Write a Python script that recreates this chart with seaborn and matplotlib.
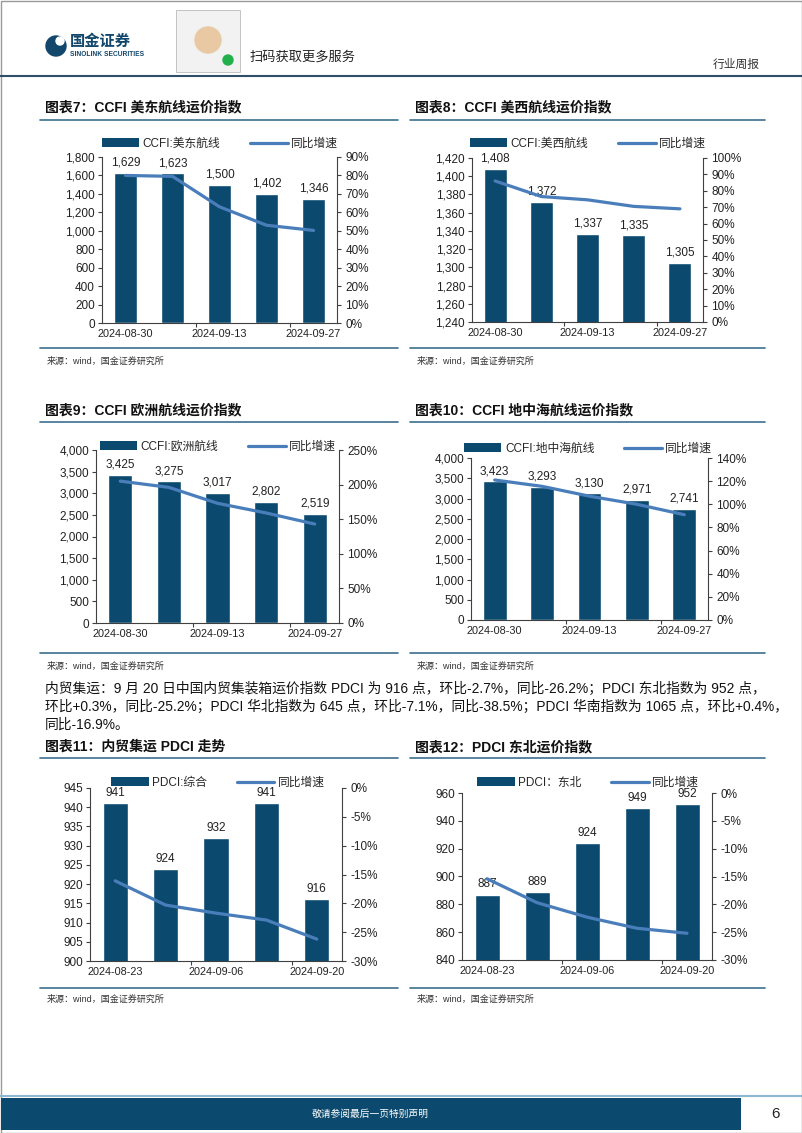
import numpy as np
import pandas as pd
import matplotlib
matplotlib.use("Agg")
import matplotlib.pyplot as plt
import seaborn as sns
from matplotlib.patches import Rectangle, Patch, Circle
from matplotlib.lines import Line2D
from matplotlib.ticker import MultipleLocator, FuncFormatter

sns.set_theme(style="white")
plt.rcParams["font.family"] = ["Liberation Sans", "Noto Sans CJK SC"]

W, H = 802, 1133
BAR = "#0b4a6e"
LINE = "#4a7ebb"
RULE = "#3d6e8e"
AXC = "#404040"

# === DATA ===
dates_ccfi = ["2024-08-30", "2024-09-06", "2024-09-13", "2024-09-20", "2024-09-27"]
dates_pdci = ["2024-08-23", "2024-08-30", "2024-09-06", "2024-09-13", "2024-09-20"]

us_east_idx = [1629, 1623, 1500, 1402, 1346]
us_east_yoy = [80.0, 79.5, 63.0, 53.0, 50.2]

us_west_idx = [1408, 1372, 1337, 1335, 1305]
us_west_yoy = [86.0, 76.5, 74.5, 70.5, 69.0]

europe_idx = [3425, 3275, 3017, 2802, 2519]
europe_yoy = [205.0, 196.0, 173.0, 159.0, 143.0]

med_idx = [3423, 3293, 3130, 2971, 2741]
med_yoy = [121.0, 115.5, 107.0, 100.0, 91.0]

pdci_idx = [941, 924, 932, 941, 916]
pdci_yoy = [-16.1, -20.3, -21.7, -22.9, -26.2]

ne_idx = [887, 889, 924, 949, 952]
ne_yoy = [-15.4, -19.7, -22.3, -24.3, -25.2]

paragraph = [
    "内贸集运：9 月 20 日中国内贸集装箱运价指数 PDCI 为 916 点，环比-2.7%，同比-26.2%；PDCI 东北指数为 952 点，",
    "环比+0.3%，同比-25.2%；PDCI 华北指数为 645 点，环比-7.1%，同比-38.5%；PDCI 华南指数为 1065 点，环比+0.4%，",
    "同比-16.9%。",
]

fig = plt.figure(figsize=(W / 100, H / 100), dpi=100)

# background layer in pixel coordinates
bg = fig.add_axes([0, 0, 1, 1])
bg.set_xlim(0, W)
bg.set_ylim(H, 0)
bg.axis("off")


def px_axes(x0, y0, x1, y1):
    return fig.add_axes([x0 / W, 1 - y1 / H, (x1 - x0) / W, (y1 - y0) / H])


def chart(box, dates, idx, yoy, label, ylim, ystep, rlim, rstep, leg_xy):
    ax = px_axes(*box)
    df = pd.DataFrame({"date": dates, "idx": idx})
    sns.barplot(data=df, x="date", y="idx", color=BAR, saturation=1,
                width=0.5, ax=ax, zorder=2)
    ax.bar_label(ax.containers[0], labels=[f"{v:,}" for v in idx],
                 padding=3, fontsize=8.5, color="#222222")
    ax.set_ylim(*ylim)
    ax.yaxis.set_major_locator(MultipleLocator(ystep))
    ax.yaxis.set_major_formatter(FuncFormatter(lambda v, p: f"{v:,.0f}"))

    ax2 = ax.twinx()
    sns.lineplot(x=np.arange(len(yoy)), y=yoy, ax=ax2, color=LINE, lw=2.3)
    ax2.set_ylim(*rlim)
    ax2.yaxis.set_major_locator(MultipleLocator(rstep))
    ax2.yaxis.set_major_formatter(FuncFormatter(lambda v, p: f"{v:.0f}%"))

    ax.set_xlim(-0.5, len(dates) - 0.5)
    ax.set_xticks([0, 2, 4])
    ax.set_xticklabels([dates[0], dates[2], dates[4]])
    ax.set_xticks([1.5, 3.5], minor=True)
    ax.set_xlabel("")
    ax.set_ylabel("")
    ax2.set_ylabel("")

    for a in (ax, ax2):
        a.set_facecolor("none")
        for s in a.spines.values():
            s.set_visible(False)
    ax.spines["left"].set_visible(True)
    ax.spines["bottom"].set_visible(True)
    ax2.spines["right"].set_visible(True)
    for s in (ax.spines["left"], ax.spines["bottom"], ax2.spines["right"]):
        s.set_color(AXC)
        s.set_linewidth(0.8)

    ax.tick_params(axis="y", left=True, direction="out", length=3, width=0.8,
                   color=AXC, labelsize=8.5, pad=2, labelcolor="#222222")
    ax.tick_params(axis="x", which="major", bottom=False, length=0,
                   labelsize=7.8, pad=4, labelcolor="#222222")
    ax.tick_params(axis="x", which="minor", bottom=True, direction="out",
                   length=3, width=0.8, color=AXC)
    ax2.tick_params(axis="y", right=True, direction="out", length=3, width=0.8,
                    color=AXC, labelsize=8.5, pad=3, labelcolor="#222222")
    ax.grid(False)
    ax2.grid(False)

    handles = [Patch(facecolor=BAR, edgecolor="none"),
               Line2D([0], [0], color=LINE, lw=2.3)]
    fig.legend(handles, [label, "同比增速"], loc="center",
               bbox_to_anchor=(leg_xy[0] / W, 1 - leg_xy[1] / H), ncol=2,
               frameon=False, fontsize=8.5, handlelength=3.2,
               handleheight=0.8, handletextpad=0.3, columnspacing=2.5)
    return ax


# === HEADER ===
bg.add_patch(Rectangle((0.5, 0.5), W - 1, H - 1, fill=False, ec="#9a9a9a", lw=1))
bg.add_patch(Circle((56, 46), 10, color="#12476b"))
bg.add_patch(Circle((60, 41), 4, color="white"))
bg.text(70, 42, "国金证券", fontsize=11, fontweight="bold", color="#12476b", va="center")
bg.text(70, 54, "SINOLINK SECURITIES", fontsize=4.8, fontweight="bold", color="#12476b", va="center")
bg.add_patch(Rectangle((176, 10), 64, 62, fc="#f2f2f2", ec="#bbbbbb", lw=0.6))
bg.add_patch(Circle((208, 40), 13, color="#e8c9a4"))
bg.add_patch(Circle((228, 60), 5, color="#22b04c"))
bg.text(250, 57, "扫码获取更多服务", fontsize=9.5, color="#222222", va="center")
bg.text(760, 65, "行业周报", fontsize=8.5, color="#333333", va="center", ha="right")
bg.plot([0, W], [76, 76], color="#2f4f66", lw=1.5)

# === TITLES AND RULES ===
titles = [
    (45, 107, "图表7：CCFI 美东航线运价指数"),
    (415, 107, "图表8：CCFI 美西航线运价指数"),
    (45, 410, "图表9：CCFI 欧洲航线运价指数"),
    (415, 410, "图表10：CCFI 地中海航线运价指数"),
    (45, 747, "图表11：内贸集运 PDCI 走势"),
    (415, 747, "图表12：PDCI 东北运价指数"),
]
for x, y, t in titles:
    bg.text(x, y, t, fontsize=10, fontweight="bold", color="#111111", va="center")

for y_top, y_bot, y_src in [(120, 348, 361), (422, 653, 666), (758, 988, 999)]:
    for x0, x1 in [(40, 398), (410, 765)]:
        bg.plot([x0, x1], [y_top, y_top], color=RULE, lw=1.2)
        bg.plot([x0, x1], [y_bot, y_bot], color=RULE, lw=1.2)
        bg.text(x0 + 7, y_src, "来源：wind，国金证券研究所", fontsize=6.5,
                color="#333333", va="center")

for i, line in enumerate(paragraph):
    bg.text(45, 689 + 18 * i, line, fontsize=9.9, color="#111111", va="center")

# === CHARTS ===
chart((102, 157, 337, 323), dates_ccfi, us_east_idx, us_east_yoy, "CCFI:美东航线",
      (0, 1800), 200, (0, 90), 10, (220, 144))
chart((472, 158, 703, 322), dates_ccfi, us_west_idx, us_west_yoy, "CCFI:美西航线",
      (1240, 1420), 20, (0, 100), 10, (588, 144))
chart((96, 450, 339, 623), dates_ccfi, europe_idx, europe_yoy, "CCFI:欧洲航线",
      (0, 4000), 500, (0, 250), 50, (218, 447))
chart((471, 458, 708, 620), dates_ccfi, med_idx, med_yoy, "CCFI:地中海航线",
      (0, 4000), 500, (0, 140), 20, (588, 449))
chart((90, 788, 342, 961), dates_pdci, pdci_idx, pdci_yoy, "PDCI:综合",
      (900, 945), 5, (-30, 0), 5, (218, 783))
chart((462, 793, 712, 960), dates_pdci, ne_idx, ne_yoy, "PDCI：东北",
      (840, 960), 20, (-30, 0), 5, (588, 783))

# === FOOTER ===
bg.plot([0, W], [1096, 1096], color="#8fb8d0", lw=1.5)
bg.add_patch(Rectangle((1, 1098), 740, 32, fc="#0b4a6e", ec="none"))
bg.text(370, 1114, "敬请参阅最后一页特别声明", fontsize=7, color="white",
        ha="center", va="center")
bg.text(776, 1114, "6", fontsize=11, color="#222222", ha="center", va="center")

fig.savefig("out.png", dpi=100)
